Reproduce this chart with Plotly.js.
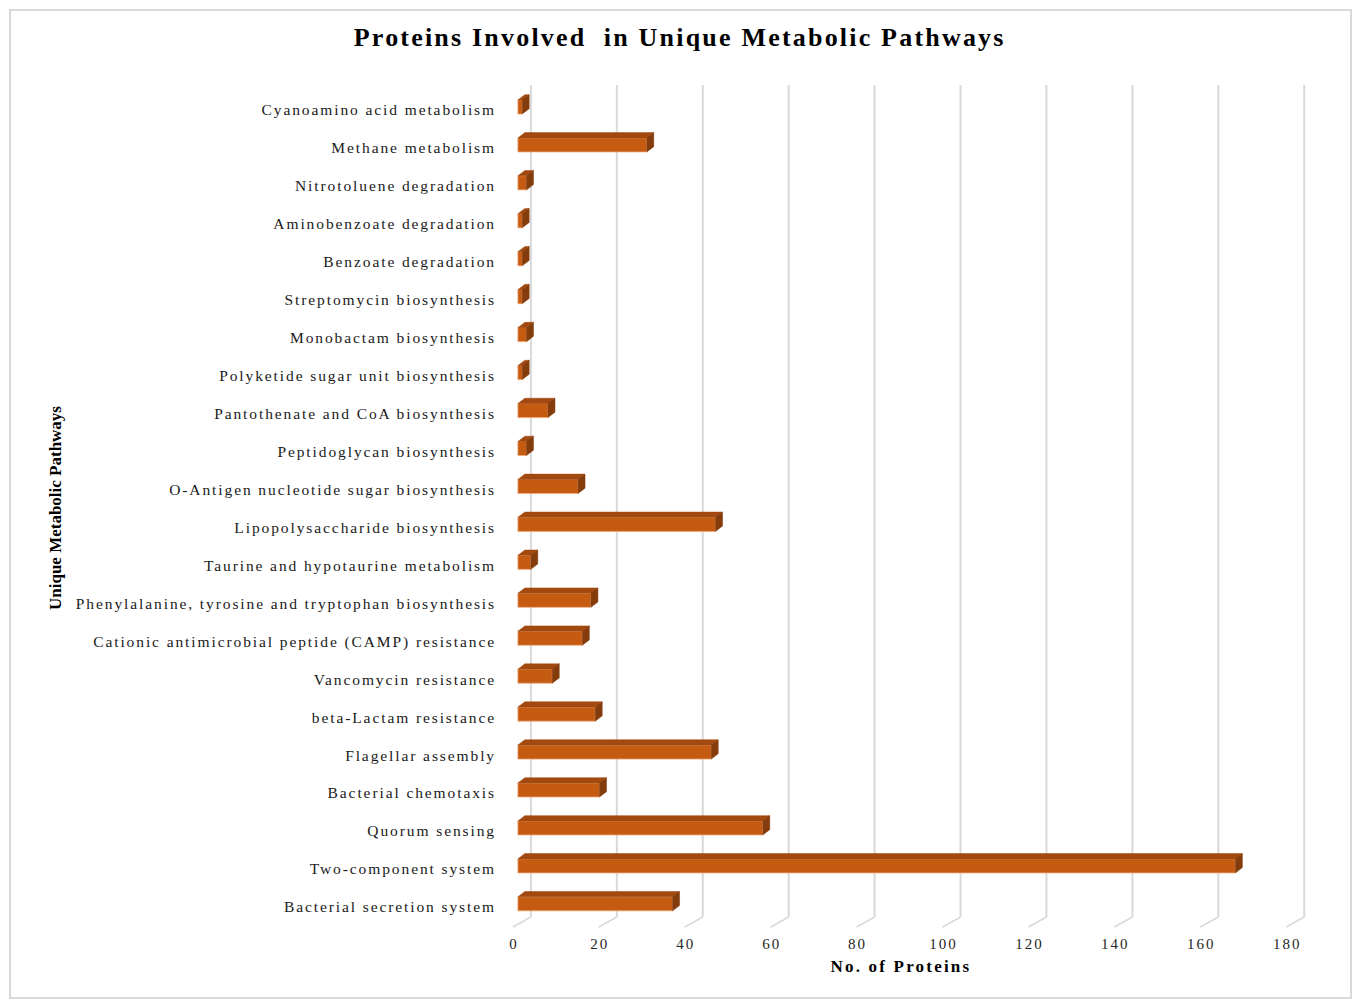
<!DOCTYPE html>
<html>
<head>
<meta charset="utf-8">
<script src="https://cdn.plot.ly/plotly-3.0.1.min.js"></script>
<style>
html,body{margin:0;padding:0;background:#fff;}
#chart{position:absolute;left:0;top:0;width:1354px;height:999px;}
#frame{position:absolute;left:9px;top:9px;width:1343px;height:990px;box-sizing:border-box;border:2px solid #d9d9d9;pointer-events:none;}
#chart .ytick text{letter-spacing:1.9px;}
#chart .xtick text{letter-spacing:2px;}
#chart .annotation[data-index="1"] text{letter-spacing:2.2px;}
#chart .gtitle{letter-spacing:2.2px;}
</style>
</head>
<body>
<div id="chart"></div>
<div id="frame"></div>
<script>
// Categories listed top to bottom
const categories = [
  "Cyanoamino acid metabolism",
  "Methane metabolism",
  "Nitrotoluene degradation",
  "Aminobenzoate degradation",
  "Benzoate degradation",
  "Streptomycin biosynthesis",
  "Monobactam biosynthesis",
  "Polyketide sugar unit biosynthesis",
  "Pantothenate and CoA biosynthesis",
  "Peptidoglycan biosynthesis",
  "O-Antigen nucleotide sugar biosynthesis",
  "Lipopolysaccharide biosynthesis",
  "Taurine and hypotaurine metabolism",
  "Phenylalanine, tyrosine and tryptophan biosynthesis",
  "Cationic antimicrobial peptide (CAMP) resistance",
  "Vancomycin resistance",
  "beta-Lactam resistance",
  "Flagellar assembly",
  "Bacterial chemotaxis",
  "Quorum sensing",
  "Two-component system",
  "Bacterial secretion system"
];
const proteinCounts = [1, 30, 2, 1, 1, 1, 2, 1, 7, 2, 14, 46, 3, 17, 15, 8, 18, 45, 19, 57, 167, 36];
const xTicks = [0, 20, 40, 60, 80, 100, 120, 140, 160, 180];

// styling / pseudo-3D geometry (in axis units)
const BAR_W = 0.37, BAR_OFF = -0.265;
const DEPTH_X = 1.63, DEPTH_Y = 0.14;
const GRID_BACK = 3.03, GRID_FRONT = -1.16;

const positions = categories.map((_, i) => i);

const topX = [], topY = [], sideX = [], sideY = [];
proteinCounts.forEach((v, i) => {
  const t = i + BAR_OFF, b = t + BAR_W;
  topX.push(0, v, v + DEPTH_X, DEPTH_X, 0, null);
  topY.push(t, t, t - DEPTH_Y, t - DEPTH_Y, t, null);
  sideX.push(v, v + DEPTH_X, v + DEPTH_X, v, v, null);
  sideY.push(t, t - DEPTH_Y, b - DEPTH_Y, b, t, null);
});

const traces = [
  {
    type: 'bar', orientation: 'h',
    x: proteinCounts, y: positions,
    width: BAR_W, offset: BAR_OFF,
    marker: {color: '#C55A11', line: {color: '#F0A878', width: 0.8}},
    hoverinfo: 'x+text', text: categories, textposition: 'none',
    showlegend: false
  },
  {
    type: 'scatter', mode: 'lines', x: topX, y: topY,
    fill: 'toself', fillcolor: '#A2490F',
    line: {color: '#A2490F', width: 0.5},
    hoverinfo: 'skip', showlegend: false
  },
  {
    type: 'scatter', mode: 'lines', x: sideX, y: sideY,
    fill: 'toself', fillcolor: '#843C0C',
    line: {color: '#843C0C', width: 0.5},
    hoverinfo: 'skip', showlegend: false
  }
];

const shapes = [];
xTicks.forEach(v => {
  shapes.push({type: 'line', xref: 'x', yref: 'paper', layer: 'below',
    x0: v + GRID_BACK, x1: v + GRID_BACK, y0: 0.0119, y1: 1,
    line: {color: '#D9D9D9', width: 2}});
  shapes.push({type: 'line', xref: 'x', yref: 'paper', layer: 'below',
    x0: v + GRID_BACK, x1: v + GRID_FRONT, y0: 0.0119, y1: 0,
    line: {color: '#D9D9D9', width: 1.5}});
});

const layout = {
  width: 1354, height: 999,
  paper_bgcolor: '#ffffff', plot_bgcolor: 'rgba(0,0,0,0)',
  margin: {l: 505, r: 37, t: 85, b: 72},
  title: {
    text: '<b>Proteins Involved  in Unique Metabolic Pathways</b>',
    font: {family: 'Liberation Serif', size: 26, color: '#000'},
    x: 0.502, xanchor: 'center', y: 1 - 37/999, yanchor: 'middle', yref: 'container'
  },
  xaxis: {
    range: [-3, 186],
    tickvals: xTicks, ticktext: xTicks.map(String),
    showgrid: false, zeroline: false, showline: false, ticks: '',
    ticklabelshift: -4, ticklabelstandoff: 6,
    tickfont: {family: 'Liberation Serif', size: 15, color: '#262626'}
  },
  yaxis: {
    range: [21.53, -0.659],
    tickvals: positions, ticktext: categories,
    showgrid: false, zeroline: false, showline: false, ticks: '',
    ticklabelstandoff: 8,
    tickfont: {family: 'Liberation Serif', size: 15.5, color: '#1a1a1a'}
  },
  annotations: [{
    text: '<b>Unique Metabolic Pathways</b>',
    xref: 'paper', yref: 'paper', x: -0.5542, y: 0.4976,
    xanchor: 'center', yanchor: 'middle', textangle: -90, showarrow: false,
    font: {family: 'Liberation Serif', size: 17, color: '#000'}
  }, {
    text: '<b>No. of Proteins</b>',
    xref: 'paper', yref: 'paper', x: 0.4877, y: -0.0475,
    xanchor: 'center', yanchor: 'middle', showarrow: false,
    font: {family: 'Liberation Serif', size: 17, color: '#000'}
  }],
  shapes: shapes,
  showlegend: false
};

Plotly.newPlot('chart', traces, layout, {displayModeBar: false, staticPlot: true});
</script>
</body>
</html>
